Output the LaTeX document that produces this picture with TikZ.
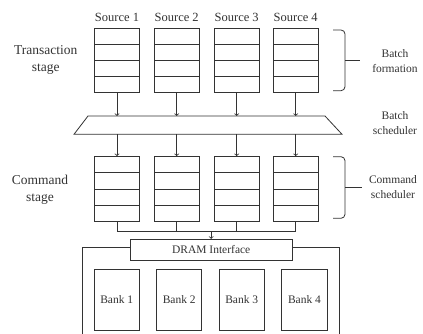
\documentclass[tikz,border=0pt]{standalone}
\usepackage{fontspec}
\setmainfont{Liberation Serif}
\usetikzlibrary{shapes.geometric}
\usetikzlibrary{arrows,positioning,calc}

\begin{document}
\begin{tikzpicture}[x=1pt,y=-1pt,line width=.8pt,color=black!80]%
        \useasboundingbox (0,0) rectangle (423,334);%%
        \begin{scope}
        \tikzstyle{every node}=[font=\fontsize{12.5}{14}\selectfont] %%
        \node (l1) at (117,17)  {Source 1}; %%
        \node (l2) at (176.7,17)  {Source 2}; %%
        \node (l3) at (236.7,17)  {Source 3}; %%
        \node (l4) at (295.7,17)  {Source 4}; %%
        \end{scope}%
        \begin{scope}
        \tikzstyle{every node}=[align=center,font=\fontsize{13.5}{17}\selectfont] %%
        \node (ts) at (45.7,59.5)  {Transaction\\stage}; %%
        \node (cs) at (40,190)  {Command\\stage}; %%
        \end{scope}%
        \begin{scope}
        \tikzstyle{every node}=[align=center,font=\fontsize{11.5}{15}\selectfont] %%
        \node (bf) at (395,60.8)  {Batch\\formation}; %%
        \node (bs) at (395,123.4)  {Batch\\scheduler}; %%
        \node (csch) at (393,187.5)  {Command\\scheduler}; %%
        \end{scope}%
        \begin{scope}[shape=rectangle,inner sep=0,minimum width=44.5pt,minimum height=64.7pt]
        \tikzstyle{every node}=[draw] %%
        \node (s1) at (117,60.3)  {}; %%
        \node (s2) at (176.7,60.3)  {}; %%
        \node (s3) at (236.7,60.3)  {}; %%
        \node (s4) at (295.7,60.3)  {}; %%
        \node (c1) at (117,188.9)  {}; %%
        \node (c2) at (176.7,188.9)  {}; %%
        \node (c3) at (236.7,188.9)  {}; %%
        \node (c4) at (295.7,188.9)  {}; %%
        \end{scope}
        % queue slots
        \foreach \q in {s1,s2,s3,s4,c1,c2,c3,c4}
          \foreach \f in {.25,.5,.75}
            \draw ($(\q.north west)!\f!(\q.south west)$) -- ($(\q.north east)!\f!(\q.south east)$);
        % batch scheduler
        \coordinate (bt) at (0,116); %%
        \coordinate (bb) at (0,134.3); %%
        \draw (74,134.3)--(88,116)--(325,116)--(342,134.3)--cycle; %%
        \begin{scope}[shape=rectangle,inner sep=0,font=\fontsize{11.5}{14}\selectfont]
        \tikzstyle{every node}=[draw] %%
        \node[minimum width=162.3pt,minimum height=21.4pt] (dram) at (211.2,250)  {DRAM Interface}; %%
        \node[minimum width=45.3pt,minimum height=60.7pt] (b1) at (116.7,299.7)  {Bank 1}; %%
        \node[minimum width=45.3pt,minimum height=60.7pt] (b2) at (179.2,299.7)  {Bank 2}; %%
        \node[minimum width=45.3pt,minimum height=60.7pt] (b3) at (241.7,299.7)  {Bank 3}; %%
        \node[minimum width=45.3pt,minimum height=60.7pt] (b4) at (304.5,299.7)  {Bank 4}; %%
        \end{scope}
        \coordinate (bus) at (0,231.7); %%
        \coordinate (obl) at (82.7,334); %%
        \coordinate (obtl) at (82.7,247.3); %%
        \coordinate (obtr) at (339.3,247.3); %%
        \coordinate (obr) at (339.3,334); %%
        \draw[->] (s1)--(s1 |- bt);  %%
        \draw[->] (s2)--(s2 |- bt);  %%
        \draw[->] (s3)--(s3 |- bt);  %%
        \draw[->] (s4)--(s4 |- bt);  %%
        \draw[->] (s1 |- bb)--(c1);  %%
        \draw[->] (s2 |- bb)--(c2);  %%
        \draw[->] (s3 |- bb)--(c3);  %%
        \draw[->] (s4 |- bb)--(c4);  %%
        \draw (c1.south)--(c1 |- bus)--(c4 |- bus)--(c4.south); %%
        \draw (c2.south)--(c2 |- bus); %%
        \draw (c3.south)--(c3 |- bus); %%
        \draw[->] (dram.north |- bus)--(dram.north); %%
        \draw (obl)--(obtl)--(obtl -| dram.west); %%
        \draw (obtr -| dram.east)--(obtr)--(obr); %%
        % braces
        \draw[rounded corners=4pt] (333,30)--(345,30)--(345,60.3)--(345,90.7)--(333,90.7); %%
        \draw (345,60.3)--(360,60.3); %%
        \draw[rounded corners=4pt] (333,156.7)--(345,156.7)--(345,187.5)--(345,218.3)--(333,218.3); %%
        \draw (345,187.5)--(361.7,187.5); %%
        \end{tikzpicture}
\end{document}
